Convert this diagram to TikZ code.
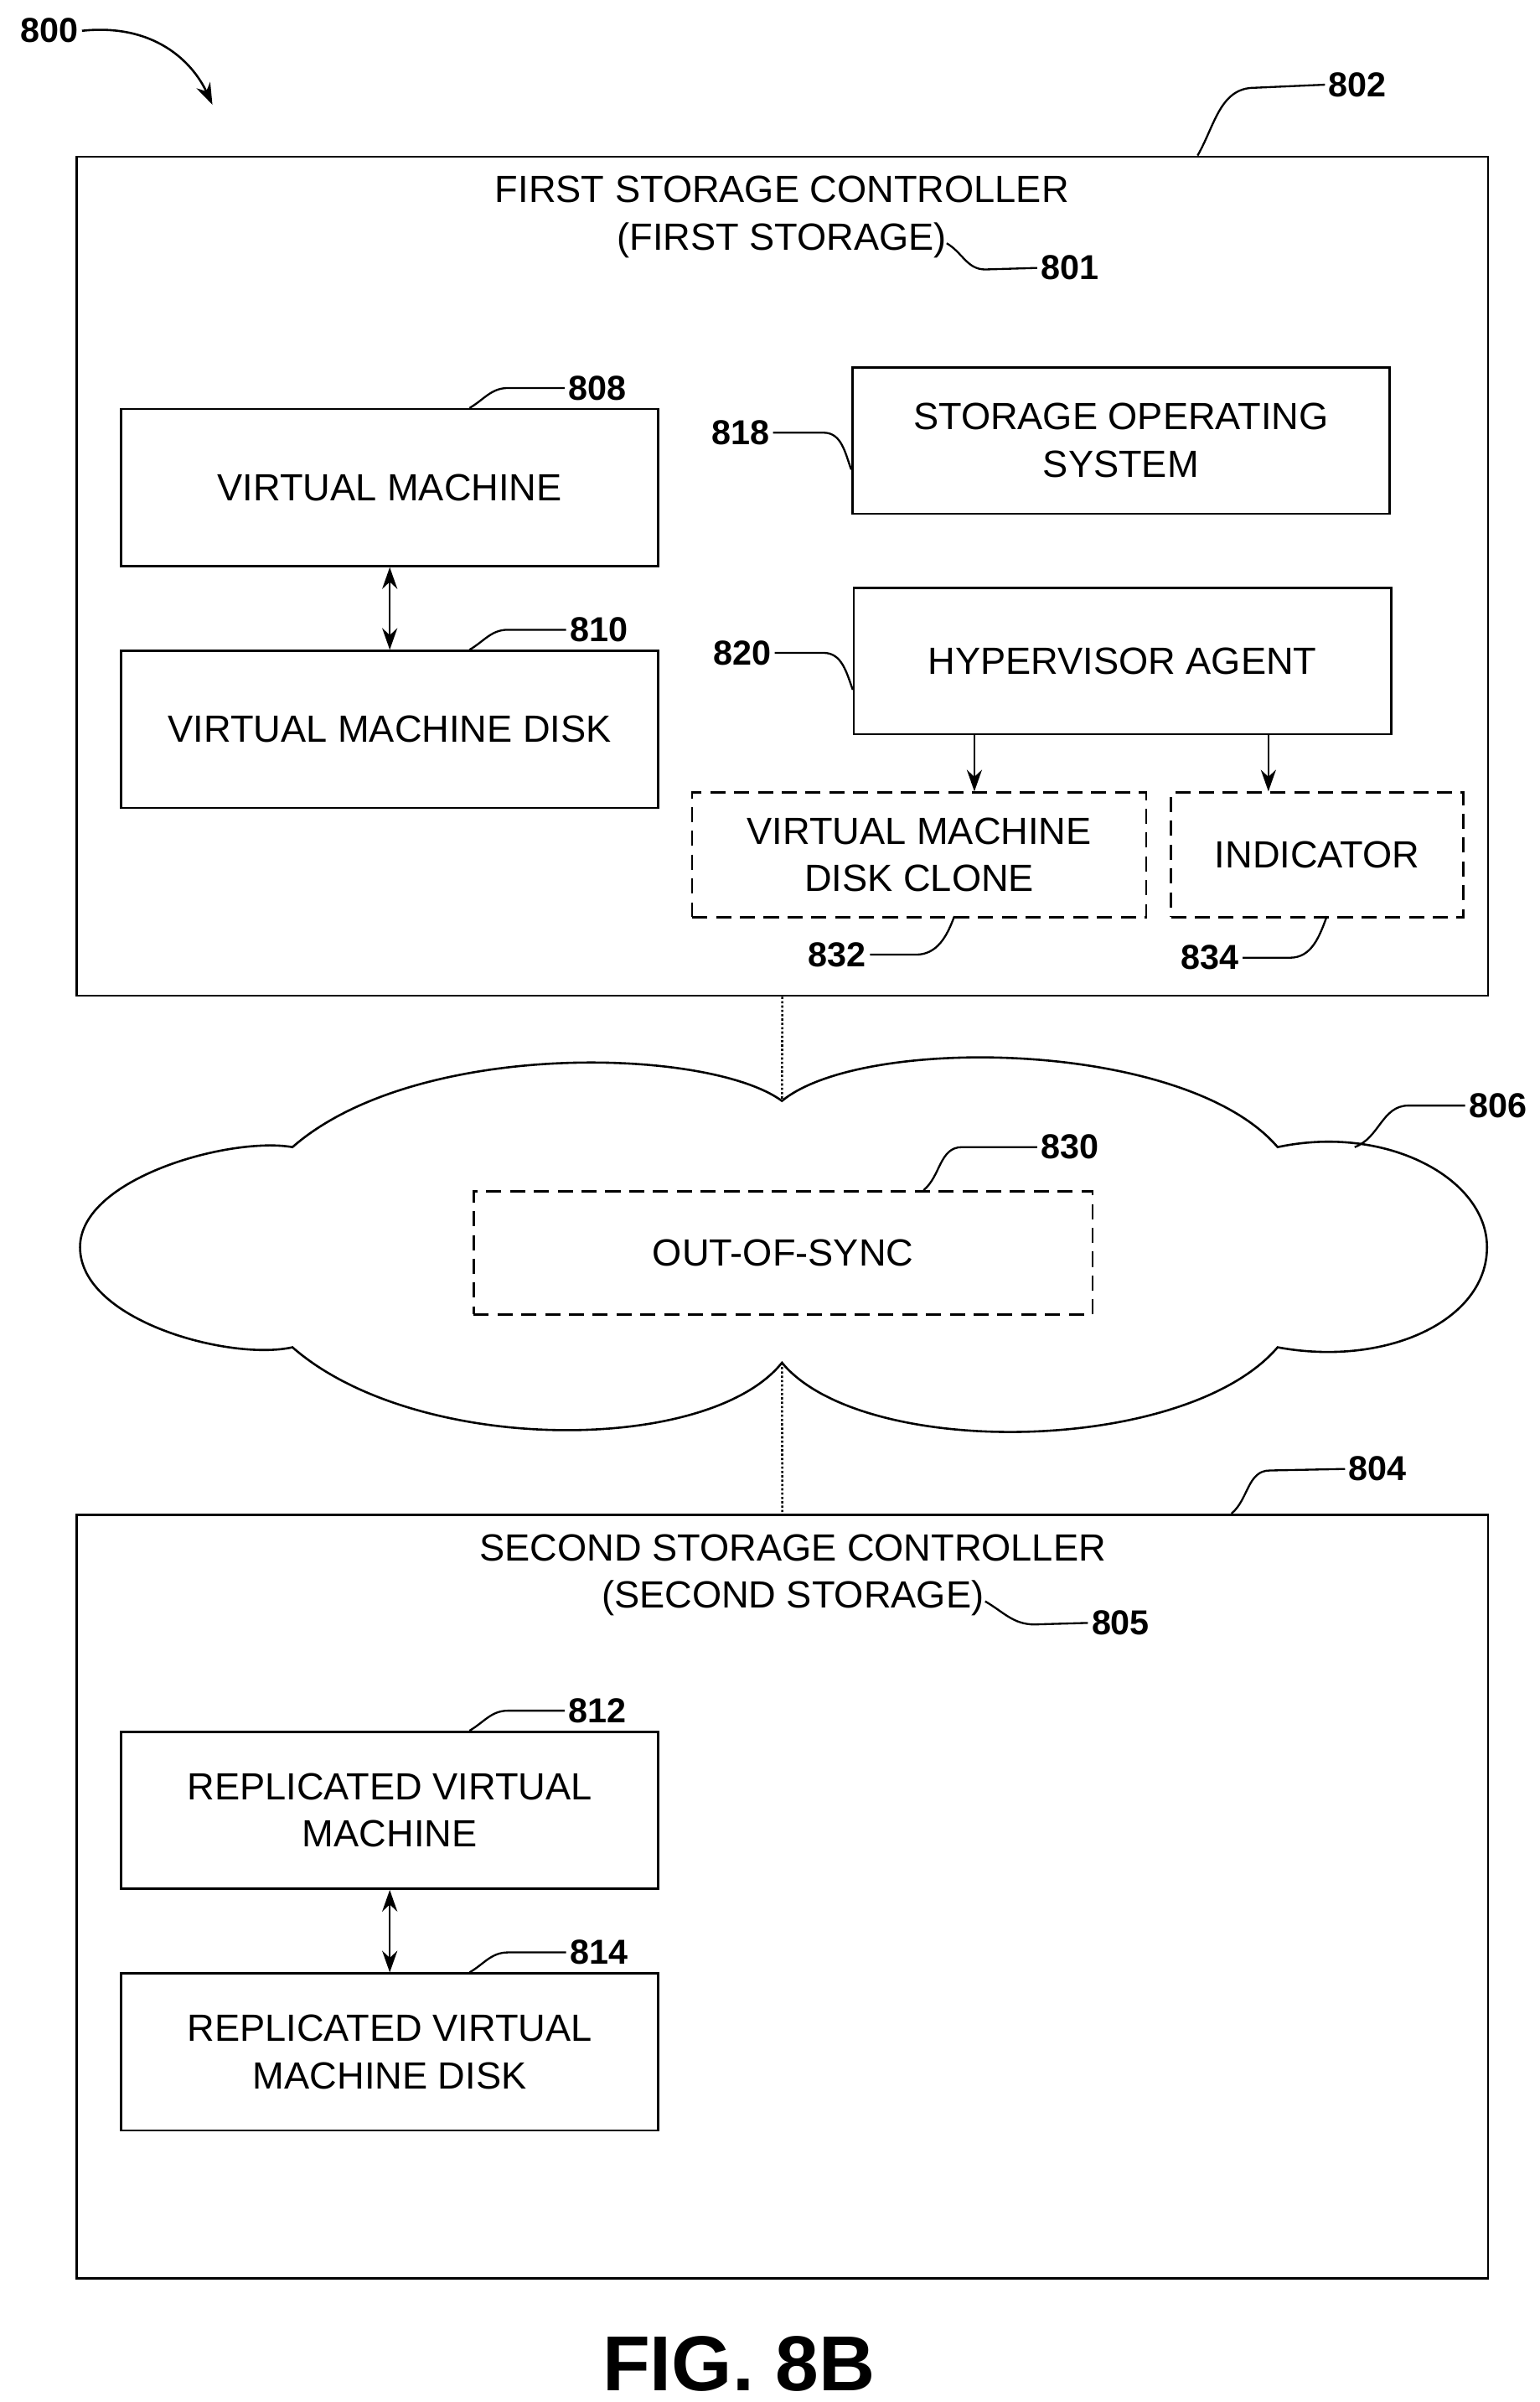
\documentclass[tikz,border=0pt]{standalone}
\usepackage{fontspec}
\setmainfont{Liberation Sans}
\usetikzlibrary{arrows.meta, positioning}
\tikzset{
    box/.style={rectangle, draw, line width=2pt, align=center, font=\fontsize{35}{44}\selectfont},
    dashedbox/.style={box, dash pattern=on 14pt off 8pt},
    ref/.style={font=\fontsize{32}{38}\selectfont\bfseries},
    title/.style={font=\fontsize{35}{44}\selectfont, align=center},
    lead/.style={line width=1.8pt},
    arrow/.style={-{Stealth[length=20pt,width=14pt]}, line width=2pt},
    dblarrow/.style={{Stealth[length=20pt,width=14pt]}-{Stealth[length=20pt,width=14pt]}, line width=2pt},
    link/.style={line width=2pt, dotted},
}
\begin{document}
\begin{tikzpicture}[x=0.05cm, y=-0.05cm]
    \useasboundingbox (0,0) rectangle (1000,1560);

    % first storage controller
    \node[box, minimum width=917*0.05cm, minimum height=545*0.05cm, anchor=north west] (first) at (49,101) {};
    \node[title] (firsttitle) at (508,141) {FIRST STORAGE CONTROLLER\\(FIRST STORAGE)};
    \node[box, minimum width=349*0.05cm, minimum height=102*0.05cm, anchor=north west] (vm) at (78,265) {VIRTUAL MACHINE};
    \node[box, minimum width=349*0.05cm, minimum height=102*0.05cm, anchor=north west] (vmd) at (78,422) {VIRTUAL MACHINE DISK};
    \node[box, minimum width=349*0.05cm, minimum height=95*0.05cm, anchor=north west] (sos) at (553,238) {STORAGE OPERATING\\SYSTEM};
    \node[box, minimum width=349*0.05cm, minimum height=95*0.05cm, anchor=north west] (agent) at (554,381) {HYPERVISOR AGENT};
    \node[dashedbox, minimum width=295*0.05cm, minimum height=81*0.05cm, anchor=north west] (clone) at (449,514) {VIRTUAL MACHINE\\DISK CLONE};
    \node[dashedbox, minimum width=190*0.05cm, minimum height=81*0.05cm, anchor=north west] (indicator) at (760,514) {INDICATOR};

    % cloud
    \draw[line width=2pt] (52,810) .. controls (52,765) and (150,738) .. (190,745)
        .. controls (270,675) and (460,680) .. (508,715)
        .. controls (560,672) and (770,675) .. (830,745)
        .. controls (900,730) and (966,765) .. (966,810)
        .. controls (966,858) and (900,888) .. (830,875)
        .. controls (770,945) and (560,948) .. (508,885)
        .. controls (460,945) and (270,945) .. (190,875)
        .. controls (150,884) and (52,858) .. (52,810);
    \node[dashedbox, minimum width=402*0.05cm, minimum height=80*0.05cm, anchor=north west] (sync) at (307,773) {OUT-OF-SYNC};

    % second storage controller
    \node[box, minimum width=917*0.05cm, minimum height=496*0.05cm, anchor=north west] (second) at (49,983) {};
    \node[title] (secondtitle) at (515,1023) {SECOND STORAGE CONTROLLER\\(SECOND STORAGE)};
    \node[box, minimum width=349*0.05cm, minimum height=102*0.05cm, anchor=north west] (rvm) at (78,1124) {REPLICATED VIRTUAL\\MACHINE};
    \node[box, minimum width=349*0.05cm, minimum height=102*0.05cm, anchor=north west] (rvmd) at (78,1281) {REPLICATED VIRTUAL\\MACHINE DISK};

    % arrows
    \draw[dblarrow] (vm.south) -- (vmd.north);
    \draw[dblarrow] (rvm.south) -- (rvmd.north);
    \draw[arrow] (agent.south -| 633,0) -- (clone.north -| 633,0);
    \draw[arrow] (agent.south -| 824,0) -- (indicator.north -| 824,0);
    \draw[link] (first.south) -- (508,715);
    \draw[link] (508,885) -- (second.north);

    % reference numerals
    \node[ref] (n800) at (32,20) {800};
    \node[ref] (n802) at (882,55) {802};
    \node[ref] (n801) at (695,174) {801};
    \node[ref] (n808) at (388,252) {808};
    \node[ref] (n810) at (389,409) {810};
    \node[ref] (n818) at (481,281) {818};
    \node[ref] (n820) at (482,424) {820};
    \node[ref] (n832) at (544,620) {832};
    \node[ref] (n834) at (786,622) {834};
    \node[ref] (n830) at (695,745) {830};
    \node[ref] (n806) at (973,718) {806};
    \node[ref] (n804) at (895,954) {804};
    \node[ref] (n805) at (728,1054) {805};
    \node[ref] (n812) at (388,1111) {812};
    \node[ref] (n814) at (389,1268) {814};

    % leaders
    \draw[arrow] (n800.east) .. controls (100,15) and (125,40) .. (138,68);
    \draw[lead] (778,101) to[out=60,in=180] (815,57) -- (n802.west);
    \draw[lead] (615,158) to[out=-30,in=180] (640,175) -- (n801.west);
    \draw[lead] (305,265) to[out=30,in=180] (330,252) -- (n808.west);
    \draw[lead] (305,422) to[out=30,in=180] (330,409) -- (n810.west);
    \draw[lead] (n818.east) -- (535,281) to[out=0,in=110] (553,305);
    \draw[lead] (n820.east) -- (535,424) to[out=0,in=110] (554,448);
    \draw[lead] (n832.east) -- (595,620) to[out=0,in=-110] (620,595);
    \draw[lead] (n834.east) -- (838,622) to[out=0,in=-110] (862,595);
    \draw[lead] (600,773) to[out=40,in=180] (625,745) -- (n830.west);
    \draw[lead] (880,745) to[out=20,in=180] (915,718) -- (n806.west);
    \draw[lead] (800,983) to[out=40,in=180] (825,955) -- (n804.west);
    \draw[lead] (640,1040) to[out=-30,in=180] (672,1055) -- (n805.west);
    \draw[lead] (305,1124) to[out=30,in=180] (330,1111) -- (n812.west);
    \draw[lead] (305,1281) to[out=30,in=180] (330,1268) -- (n814.west);

    \node[font=\fontsize{72}{80}\selectfont\bfseries] (fig) at (480,1535) {FIG. 8B};
\end{tikzpicture}
\end{document}
